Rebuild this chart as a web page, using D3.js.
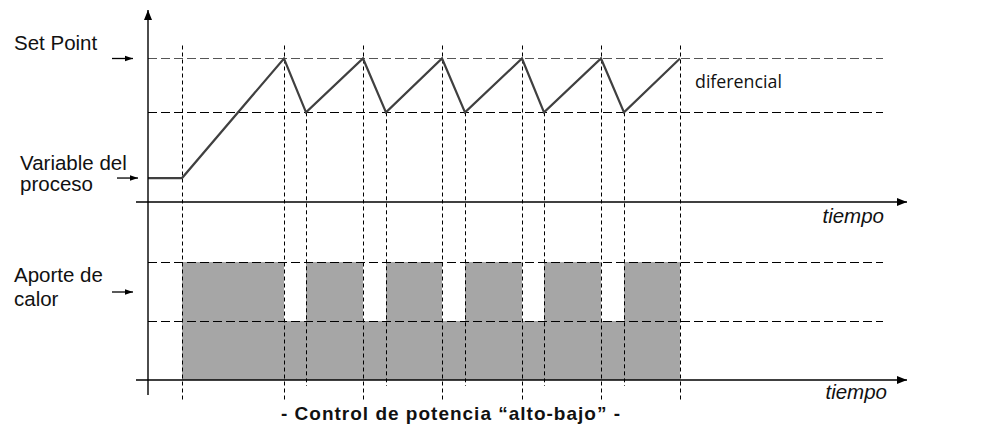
<!DOCTYPE html>
<html>
<head>
<meta charset="utf-8">
<script src="https://cdn.jsdelivr.net/npm/d3@7"></script>
<style>
html,body{margin:0;padding:0;background:#fff;}
svg{display:block;}
</style>
</head>
<body>
<svg id="chart" width="996" height="440"></svg>
<script>
// ---- data ----
const switchTimes = [0, 4.63, 18.5, 21.5, 29.25, 32.38, 40.0, 43.13, 50.88, 53.88, 61.63, 64.76, 72.38];
const processValues = [16.7, 16.7, 100, 62.5, 100, 62.5, 100, 62.5, 100, 62.5, 100, 62.5, 100];
const setPoint = 100;
const lowerLimit = 62.5;
const heatStart = [4.63, 18.5, 21.5, 29.25, 32.38, 40.0, 43.13, 50.88, 53.88, 61.63, 64.76];
const heatEnd   = [18.5, 21.5, 29.25, 32.38, 40.0, 43.13, 50.88, 53.88, 61.63, 64.76, 72.38];
const heatLevel = [2, 1, 2, 1, 2, 1, 2, 1, 2, 1, 2];   // 2 = alto, 1 = bajo
const heatLevels = [1, 2];
const labelTop = ["Set Point"];
const labelProcess = ["Variable del", "proceso"];
const labelHeat = ["Aporte de", "calor"];
const axisLabel = "tiempo";
const diffLabel = "diferencial";
const title = "- Control de potencia \u201calto-bajo\u201d -";

// ---- scales ----
const x = d3.scaleLinear().domain([0, 100]).range([148, 883]);
const yTop = d3.scaleLinear().domain([0, 100]).range([202, 58.5]);
const yBot = d3.scaleLinear().domain([0, 2]).range([380, 262]);

const svg = d3.select("#chart");
const defs = svg.append("defs");
defs.append("marker").attr("id", "ah").attr("viewBox", "0 0 10 10")
  .attr("refX", 10).attr("refY", 5).attr("markerWidth", 10).attr("markerHeight", 10)
  .attr("markerUnits", "userSpaceOnUse").attr("orient", "auto")
  .append("path").attr("d", "M0,1 L10,5 L0,9 Z").attr("fill", "#000");
defs.append("marker").attr("id", "ahs").attr("viewBox", "0 0 10 10")
  .attr("refX", 10).attr("refY", 5).attr("markerWidth", 8).attr("markerHeight", 8)
  .attr("markerUnits", "userSpaceOnUse").attr("orient", "auto")
  .append("path").attr("d", "M0,1.5 L10,5 L0,8.5 Z").attr("fill", "#000");

// ---- heat bars ----
const bars = heatStart.map((s, i) => ({s, e: heatEnd[i], v: heatLevel[i]}));
svg.append("g").selectAll("rect").data(bars).join("rect")
  .attr("x", d => x(d.s)).attr("width", d => x(d.e) - x(d.s))
  .attr("y", d => yBot(d.v)).attr("height", d => yBot(0) - yBot(d.v))
  .attr("fill", "#a6a6a6");

// ---- horizontal dashed reference lines ----
const hd = svg.append("g").attr("stroke", "#000").attr("stroke-width", 1).attr("stroke-dasharray", "9,4");
hd.append("line").attr("x1", x(0)).attr("x2", x(100)).attr("y1", yTop(setPoint)).attr("y2", yTop(setPoint)).attr("stroke", "#555");
hd.append("line").attr("x1", x(0)).attr("x2", x(100)).attr("y1", Math.round(yTop(lowerLimit)) + 0.5).attr("y2", Math.round(yTop(lowerLimit)) + 0.5);
heatLevels.forEach(l => {
  hd.append("line").attr("x1", x(0)).attr("x2", x(100)).attr("y1", Math.round(yBot(l)) + 0.5).attr("y2", Math.round(yBot(l)) + 0.5);
});

// ---- vertical dashed lines ----
const vd = svg.append("g").attr("stroke", "#000").attr("stroke-width", 1).attr("stroke-dasharray", "4,3");
switchTimes.forEach((t, i) => {
  if (i === 0) return;
  const isLow = processValues[i] === lowerLimit;
  const xx = Math.round(x(t)) + 0.5;
  vd.append("line").attr("x1", xx).attr("x2", xx)
    .attr("y1", isLow ? yTop(lowerLimit) : yTop(setPoint) - 13)
    .attr("y2", isLow ? yBot(0) + 6 : yBot(0) + 20);
});

// ---- process variable line ----
const pts = switchTimes.map((t, i) => [t, processValues[i]]);
svg.append("path").datum(pts)
  .attr("d", d3.line().x(d => x(d[0])).y(d => yTop(d[1])))
  .attr("fill", "none").attr("stroke", "#404040").attr("stroke-width", 2.2).attr("stroke-linejoin", "miter");

// ---- axes ----
const ax = svg.append("g").attr("stroke", "#000").attr("stroke-width", 1.4);
ax.append("line").attr("x1", x(0)).attr("x2", x(0)).attr("y1", 395).attr("y2", 10).attr("marker-end", "url(#ah)");
ax.append("line").attr("x1", 136).attr("x2", 907).attr("y1", yTop(0)).attr("y2", yTop(0)).attr("marker-end", "url(#ah)");
ax.append("line").attr("x1", 136).attr("x2", 907).attr("y1", yBot(0)).attr("y2", yBot(0)).attr("marker-end", "url(#ah)");

// ---- small label arrows ----
const la = svg.append("g").attr("stroke", "#000").attr("stroke-width", 1.3);
la.append("line").attr("x1", 112).attr("x2", 133).attr("y1", yTop(setPoint)).attr("y2", yTop(setPoint)).attr("marker-end", "url(#ahs)");
la.append("line").attr("x1", 117).attr("x2", 138).attr("y1", yTop(processValues[0])).attr("y2", yTop(processValues[0])).attr("marker-end", "url(#ahs)");
la.append("line").attr("x1", 112).attr("x2", 133).attr("y1", 292).attr("y2", 292).attr("marker-end", "url(#ahs)");

// ---- text ----
const font = "'Liberation Sans', Arial, sans-serif";
const tg = svg.append("g").attr("font-family", font).attr("font-size", 20.5).attr("fill", "#111");
tg.append("text").attr("x", 14).attr("y", 50).text(labelTop[0]);
labelProcess.forEach((s, i) => tg.append("text").attr("x", 20).attr("y", 170 + i * 21).text(s));
labelHeat.forEach((s, i) => tg.append("text").attr("x", 14).attr("y", 282 + i * 24).text(s));
tg.append("text").attr("x", 884).attr("y", 223).attr("text-anchor", "end").attr("font-style", "italic").text(axisLabel);
tg.append("text").attr("x", 887).attr("y", 399).attr("text-anchor", "end").attr("font-style", "italic").text(axisLabel);
svg.append("text").attr("x", 695).attr("y", 88).attr("font-family", "'Open Sans', sans-serif").attr("font-size", 17.8)
  .attr("fill", "#111").text(diffLabel);
svg.append("text").attr("x", 451).attr("y", 420).attr("text-anchor", "middle").attr("font-family", font)
  .attr("font-weight", "bold").attr("font-size", 19).attr("letter-spacing", 1.0).attr("fill", "#111").text(title);
</script>
</body>
</html>
